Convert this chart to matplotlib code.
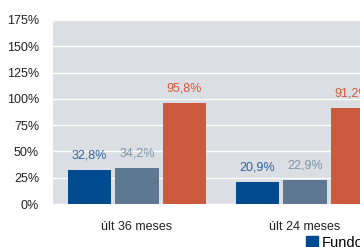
import numpy as np
import matplotlib.pyplot as plt
from matplotlib.patches import Patch

plt.rcParams['font.family'] = ['Liberation Sans', 'DejaVu Sans']

periodos = ['últ 36 meses', 'últ 24 meses']
series = ['Fundo', 'Índice', 'Ibovespa']
fundo = [32.8, 20.9]
indice = [34.2, 22.9]
ibov = [95.8, 91.2]
yticks = [0, 25, 50, 75, 100, 125, 150, 175]

bar_colors = ['#004a8f', '#5f7891', '#cc5a3c']
text_colors = ['#2f62a3', '#7d91a6', '#cc5a3c']

fig = plt.figure(figsize=(3.6, 2.47), dpi=100)
ax = fig.add_axes([53 / 360, 43 / 247, 336 / 360, 184 / 247])
ax.set_facecolor('#dbdfe3')

x = np.arange(len(periodos))
w = 0.256
step = 0.283
for i, vals in enumerate([fundo, indice, ibov]):
    pos = x + (i - 1) * step
    ax.bar(pos, vals, width=w, color=bar_colors[i], zorder=3)
    for p, v in zip(pos, vals):
        ax.annotate(f'{v:.1f}%'.replace('.', ','), (p, v), xytext=(0, 6),
                    textcoords='offset points', ha='center', va='bottom',
                    fontsize=9, color=text_colors[i], zorder=4)

ax.set_xlim(-0.5, 1.5)
ax.set_ylim(0, 175)
ax.set_yticks(yticks)
ax.set_yticklabels([f'{t}%' for t in yticks])
ax.set_xticks(x)
ax.set_xticklabels(periodos)
ax.tick_params(axis='both', length=0, labelsize=9, colors='#222222')
ax.tick_params(axis='y', pad=10)
ax.tick_params(axis='x', pad=12)
ax.grid(axis='y', color='white', linewidth=1, zorder=1)
for s in ax.spines.values():
    s.set_visible(False)

handles = [Patch(color=c) for c in bar_colors]
fig.legend(handles, series, ncol=3, loc='center left',
           bbox_to_anchor=(293 / 360, 4 / 247), frameon=False, fontsize=10.5,
           handlelength=0.8, handleheight=0.8, handletextpad=0.3, columnspacing=1.0)

fig.savefig('out.png', dpi=100)
